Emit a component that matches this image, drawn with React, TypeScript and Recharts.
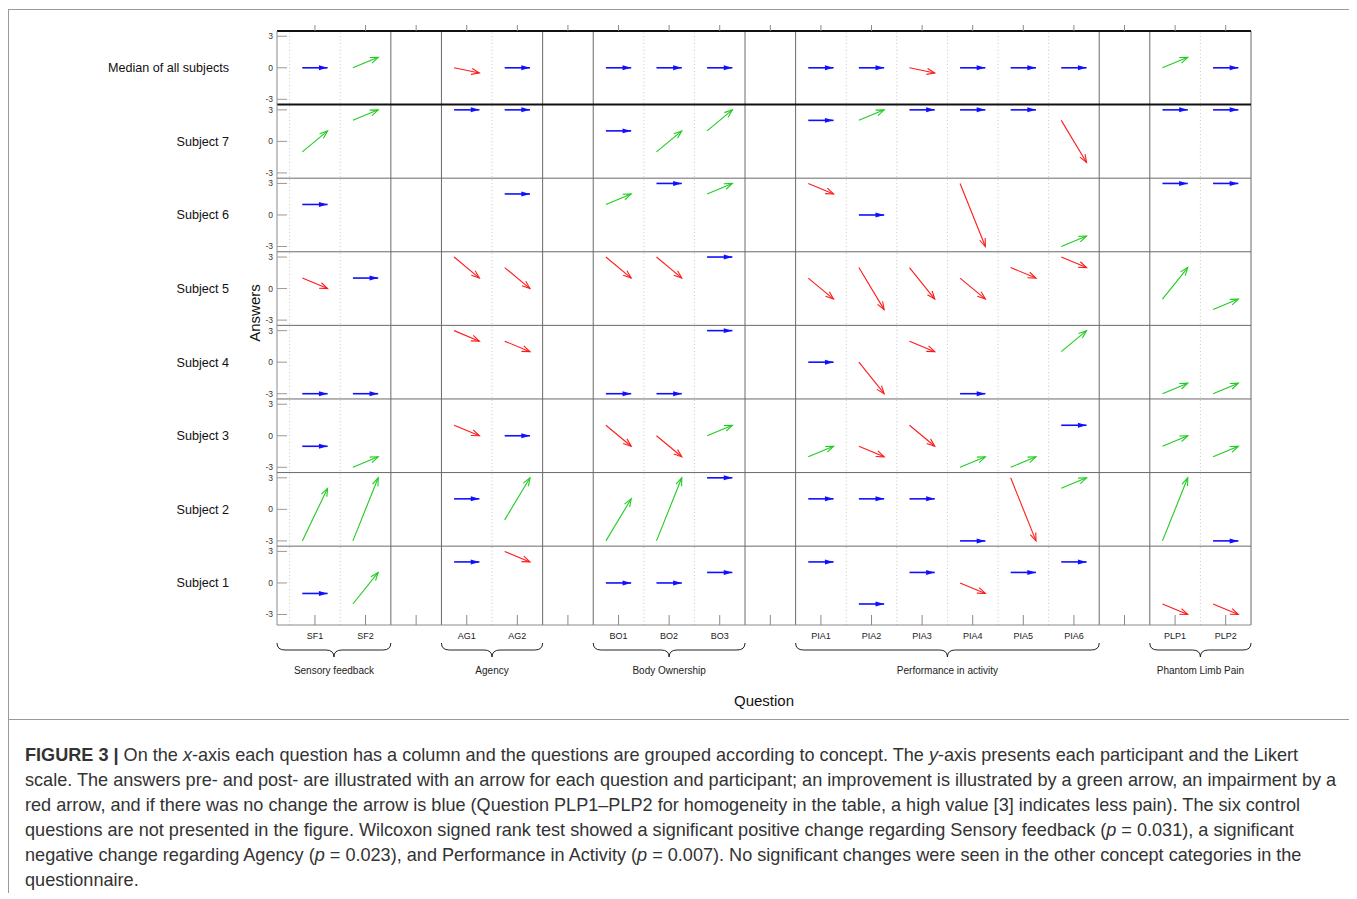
import React from "react";
import { ComposedChart, XAxis, YAxis, ReferenceLine, Label } from "recharts";

// rows top to bottom
const ROWS = [
  "Median of all subjects",
  "Subject 7",
  "Subject 6",
  "Subject 5",
  "Subject 4",
  "Subject 3",
  "Subject 2",
  "Subject 1",
];

const GROUP_NAMES = [
  "Sensory feedback",
  "Agency",
  "Body Ownership",
  "Performance in activity",
  "Phantom Limb Pain",
];
const GROUP_QUESTIONS = [
  ["SF1", "SF2"],
  ["AG1", "AG2"],
  ["BO1", "BO2", "BO3"],
  ["PIA1", "PIA2", "PIA3", "PIA4", "PIA5", "PIA6"],
  ["PLP1", "PLP2"],
];

// [pre, post] per question, null = not answered
type Pair = [number, number] | null;
//                   SF1      SF2      AG1        AG2      BO1      BO2      BO3      PIA1     PIA2     PIA3       PIA4     PIA5     PIA6     PLP1     PLP2
const MEDIAN: Pair[] = [[0, 0], [0, 1], [0, -0.5], [0, 0], [0, 0], [0, 0], [0, 0], [0, 0], [0, 0], [0, -0.5], [0, 0], [0, 0], [0, 0], [0, 1], [0, 0]];
const SUBJECT_7: Pair[] = [[-1, 1], [2, 3], [3, 3], [3, 3], [1, 1], [-1, 1], [1, 3], [2, 2], [2, 3], [3, 3], [3, 3], [3, 3], [2, -2], [3, 3], [3, 3]];
const SUBJECT_6: Pair[] = [[1, 1], null, null, [2, 2], [1, 2], [3, 3], [2, 3], [3, 2], [0, 0], null, [3, -3], null, [-3, -2], [3, 3], [3, 3]];
const SUBJECT_5: Pair[] = [[1, 0], [1, 1], [3, 1], [2, 0], [3, 1], [3, 1], [3, 3], [1, -1], [2, -2], [2, -1], [1, -1], [2, 1], [3, 2], [-1, 2], [-2, -1]];
const SUBJECT_4: Pair[] = [[-3, -3], [-3, -3], [3, 2], [2, 1], [-3, -3], [-3, -3], [3, 3], [0, 0], [0, -3], [2, 1], [-3, -3], null, [1, 3], [-3, -2], [-3, -2]];
const SUBJECT_3: Pair[] = [[-1, -1], [-3, -2], [1, 0], [0, 0], [1, -1], [0, -2], [0, 1], [-2, -1], [-1, -2], [1, -1], [-3, -2], [-3, -2], [1, 1], [-1, 0], [-2, -1]];
const SUBJECT_2: Pair[] = [[-3, 2], [-3, 3], [1, 1], [-1, 3], [-3, 1], [-3, 3], [3, 3], [1, 1], [1, 1], [1, 1], [-3, -3], [3, -3], [2, 3], [-3, 3], [-3, -3]];
const SUBJECT_1: Pair[] = [[-1, -1], [-2, 1], [2, 2], [3, 2], [0, 0], [0, 0], [1, 1], [2, 2], [-2, -2], [1, 1], [0, -1], [1, 1], [2, 2], [-2, -3], [-2, -3]];

const ANSWERS = [MEDIAN, SUBJECT_7, SUBJECT_6, SUBJECT_5, SUBJECT_4, SUBJECT_3, SUBJECT_2, SUBJECT_1];

const FONT = "'Liberation Sans', Arial, Helvetica, sans-serif";
const ROW_STEP = 7;
const X_MIN = 0.25;
const PLOT_W = 974;

// layout: each group followed by an empty column
const questions: { name: string; x: number }[] = [];
const groups: { name: string; first: number; last: number }[] = [];
let pos = 1;
GROUP_QUESTIONS.forEach((qs, g) => {
  const first = pos;
  qs.forEach((q) => {
    questions.push({ name: q, x: pos });
    pos++;
  });
  groups.push({ name: GROUP_NAMES[g], first, last: pos - 1 });
  pos++;
});
const X_MAX = groups[groups.length - 1].last + 0.5;
const PX = PLOT_W / (X_MAX - X_MIN);
const xTicks = Array.from({ length: X_MAX - 0.5 }, (_, i) => i + 1);
const xLabel = (v: number) => questions.find((q) => q.x === v)?.name ?? "";

// braces run from the plot edge / group border to the next border
const groupSpans = groups.map((g, i) => {
  const lo = i === 0 ? X_MIN : g.first - 0.5;
  const hi = g.last + 0.5;
  return { name: g.name, lo, hi, mid: (lo + hi) / 2 };
});

const solidX: number[] = [];
const dottedX: number[] = [];
groups.forEach((g, i) => {
  if (i === 0) dottedX.push(g.first - 0.5);
  else solidX.push(g.first - 0.5);
  for (let x = g.first; x < g.last; x++) dottedX.push(x + 0.5);
  solidX.push(g.last + 0.5);
});

const nRows = ROWS.length;
const rowOffset = (i: number) => ROW_STEP * (nRows - 1 - i);
const Y_MIN = -4;
const Y_MAX = rowOffset(0) + 3.5;
const yTicks: number[] = [];
for (let k = 0; k < nRows; k++) yTicks.push(k * ROW_STEP - 3, k * ROW_STEP, k * ROW_STEP + 3);
const rowTicks = ROWS.map((_, i) => rowOffset(i));
const rowLines = Array.from({ length: nRows - 1 }, (_, k) => k * ROW_STEP + 3.5);

const arrows: { x1: number; y1: number; x2: number; y2: number; color: string }[] = [];
ANSWERS.forEach((row, i) => {
  row.forEach((p, j) => {
    if (!p) return;
    const [pre, post] = p;
    const color = post > pre ? "#1fcc1f" : post < pre ? "#ff1a1a" : "#1010ff";
    arrows.push({
      x1: questions[j].x - 0.25,
      y1: pre + rowOffset(i),
      x2: questions[j].x + 0.25,
      y2: post + rowOffset(i),
      color,
    });
  });
});

const arrowShape = (color: string) => (p: any) => {
  const x1 = Number(p.x1), y1 = Number(p.y1), x2 = Number(p.x2), y2 = Number(p.y2);
  const ang = Math.atan2(y2 - y1, x2 - x1);
  const flat = color === "#1010ff";
  const L = flat ? 9 : 8.5;
  const A = flat ? 0.28 : 0.36;
  const ax = x2 - L * Math.cos(ang - A), ay = y2 - L * Math.sin(ang - A);
  const bx = x2 - L * Math.cos(ang + A), by = y2 - L * Math.sin(ang + A);
  return (
    <g>
      <line x1={x1} y1={y1} x2={x2} y2={y2} stroke={color} strokeWidth={flat ? 1.6 : 1.1} />
      {flat ? (
        <polygon points={`${ax},${ay} ${x2},${y2} ${bx},${by}`} fill={color} />
      ) : (
        <polyline points={`${ax},${ay} ${x2},${y2} ${bx},${by}`} fill="none" stroke={color} strokeWidth={1.1} />
      )}
    </g>
  );
};

const QTick = (p: any) => (
  <g>
    <line x1={p.x} x2={p.x} y1={p.y} y2={p.y - 10} stroke="#8a8a8a" />
    <text x={p.x} y={p.y + 14} textAnchor="middle" fontSize={9} fontFamily={FONT} fill="#222">
      {xLabel(p.payload.value)}
    </text>
  </g>
);

const GroupTick = (p: any) => {
  const g = groupSpans.find((s) => Math.abs(s.mid - p.payload.value) < 1e-6);
  if (!g) return <g />;
  const hw = ((g.hi - g.lo) / 2) * PX;
  const x0 = p.x - hw, x1 = p.x + hw, xm = p.x;
  const t = p.y + 2, m = p.y + 9, b = p.y + 16;
  const d = `M${x0},${t} Q${x0},${m} ${x0 + 8},${m} L${xm - 8},${m} Q${xm},${m} ${xm},${b} Q${xm},${m} ${xm + 8},${m} L${x1 - 8},${m} Q${x1},${m} ${x1},${t}`;
  return (
    <g>
      <path d={d} fill="none" stroke="#222" strokeWidth={1} />
      <text x={xm} y={p.y + 33} textAnchor="middle" fontSize={10} fontFamily={FONT} fill="#222">
        {g.name}
      </text>
    </g>
  );
};

const AnsTick = (p: any) => {
  const v = p.payload.value;
  const lab = v - ROW_STEP * Math.round(v / ROW_STEP);
  return (
    <g>
      <line x1={p.x + 4} x2={p.x + 14} y1={p.y} y2={p.y} stroke="#9a9a9a" />
      <text x={p.x} y={p.y} dy="0.35em" textAnchor="end" fontSize={8.5} fontFamily={FONT} fill="#333">
        {lab}
      </text>
    </g>
  );
};

const NoTick = () => <g />;

export default function App() {
  return (
    <div style={{ width: 1342, paddingTop: 1, fontFamily: FONT }}>
      <div style={{ border: "1px solid #9a9a9a", width: 1340, height: 709 }}>
        <ComposedChart data={questions} width={1340} height={709} margin={{ top: 15, right: 98, bottom: 12, left: 0 }}>
          <XAxis
            xAxisId="top"
            orientation="top"
            dataKey="x"
            type="number"
            domain={[X_MIN, X_MAX]}
            allowDataOverflow
            ticks={xTicks}
            interval={0}
            height={6}
            tickSize={6}
            tick={NoTick}
            axisLine={{ stroke: "#111", strokeWidth: 2 }}
            tickLine={{ stroke: "#8a8a8a" }}
          />
          <XAxis
            xAxisId="a"
            dataKey="x"
            type="number"
            domain={[X_MIN, X_MAX]}
            allowDataOverflow
            ticks={xTicks}
            interval={0}
            height={16}
            tickSize={0}
            tickMargin={0}
            tickLine={false}
            tick={QTick}
            axisLine={{ stroke: "#8a8a8a" }}
          />
          <XAxis
            xAxisId="b"
            dataKey="x"
            type="number"
            domain={[X_MIN, X_MAX]}
            allowDataOverflow
            ticks={groupSpans.map((g) => g.mid)}
            interval={0}
            height={66}
            tickSize={0}
            tickMargin={0}
            tickLine={false}
            axisLine={false}
            tick={GroupTick}
          >
            <Label
              content={(lp: any) => {
                const vb = lp.viewBox || {};
                return (
                  <text x={vb.x + vb.width / 2} y={vb.y + 65} textAnchor="middle" fontSize={15} fontFamily={FONT} fill="#111">
                    Question
                  </text>
                );
              }}
            />
          </XAxis>
          <YAxis
            yAxisId="ans"
            type="number"
            domain={[Y_MIN, Y_MAX]}
            allowDataOverflow
            ticks={yTicks}
            interval={0}
            width={30}
            tickSize={0}
            tickMargin={4}
            tickLine={false}
            tick={AnsTick}
            axisLine={{ stroke: "#8a8a8a" }}
          >
            <Label
              content={(lp: any) => {
                const vb = lp.viewBox || {};
                const cx = vb.x + 8;
                const cy = vb.y + 282;
                return (
                  <text x={cx} y={cy} transform={`rotate(-90 ${cx} ${cy})`} dy="0.35em" textAnchor="middle" fontSize={15} fontFamily={FONT} fill="#111">
                    Answers
                  </text>
                );
              }}
            />
          </YAxis>
          <YAxis
            yAxisId="row"
            type="number"
            domain={[Y_MIN, Y_MAX]}
            allowDataOverflow
            ticks={rowTicks}
            interval={0}
            width={238}
            tickSize={0}
            tickMargin={18}
            tickLine={false}
            axisLine={false}
            tickFormatter={(v: number) => ROWS[nRows - 1 - Math.round(v / ROW_STEP)]}
            tick={{ fontSize: 12.6, fill: "#111", fontFamily: FONT }}
          />

          {dottedX.map((x) => (
            <ReferenceLine key={`d${x}`} x={x} xAxisId="a" yAxisId="ans" stroke="#c8c8c8" strokeDasharray="1 2.5" />
          ))}
          {solidX.map((x) => (
            <ReferenceLine key={`s${x}`} x={x} xAxisId="a" yAxisId="ans" stroke="#6a6a6a" />
          ))}
          {rowLines.map((y) => (
            <ReferenceLine
              key={`r${y}`}
              y={y}
              xAxisId="a"
              yAxisId="ans"
              stroke={y === rowLines[rowLines.length - 1] ? "#111" : "#6a6a6a"}
              strokeWidth={y === rowLines[rowLines.length - 1] ? 2 : 1}
            />
          ))}
          {arrows.map((a, i) => (
            <ReferenceLine
              key={`a${i}`}
              xAxisId="a"
              yAxisId="ans"
              ifOverflow="visible"
              segment={[
                { x: a.x1, y: a.y1 },
                { x: a.x2, y: a.y2 },
              ]}
              stroke={a.color}
              shape={arrowShape(a.color)}
            />
          ))}
        </ComposedChart>
      </div>
      <div
        style={{
          borderLeft: "1px solid #9a9a9a",
          padding: "23px 0 0 16px",
          fontFamily: FONT,
          fontSize: 18.1,
          lineHeight: "25px",
          color: "#333",
          whiteSpace: "nowrap",
        }}
      >
        <div>
          <b>FIGURE 3 |</b> On the <i>x</i>-axis each question has a column and the questions are grouped according to concept. The <i>y</i>-axis presents each participant and the Likert
        </div>
        <div>
          scale. The answers pre- and post- are illustrated with an arrow for each question and participant; an improvement is illustrated by a green arrow, an impairment by a
        </div>
        <div>
          red arrow, and if there was no change the arrow is blue (Question PLP1–PLP2 for homogeneity in the table, a high value [3] indicates less pain). The six control
        </div>
        <div>
          questions are not presented in the figure. Wilcoxon signed rank test showed a significant positive change regarding Sensory feedback (<i>p</i> = 0.031), a significant
        </div>
        <div>
          negative change regarding Agency (<i>p</i> = 0.023), and Performance in Activity (<i>p</i> = 0.007). No significant changes were seen in the other concept categories in the
        </div>
        <div>questionnaire.</div>
      </div>
    </div>
  );
}
